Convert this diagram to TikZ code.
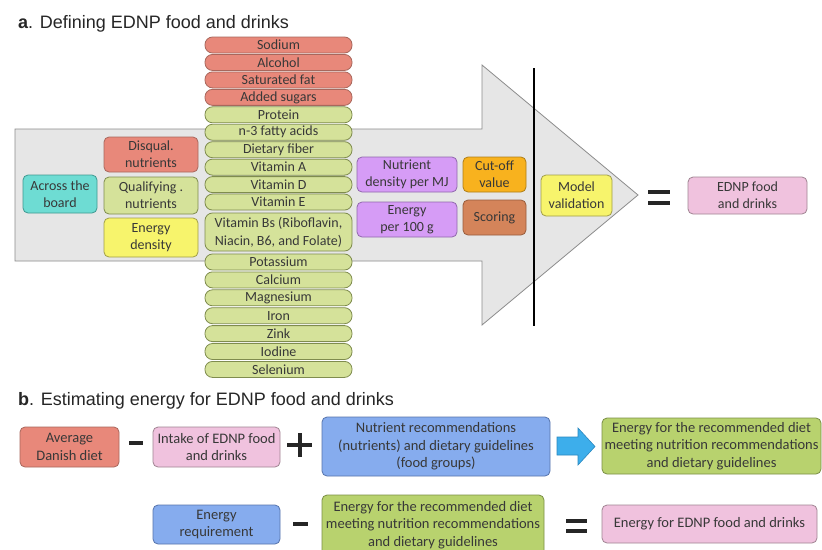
\documentclass[tikz,border=0pt]{standalone}
\usepackage{fontspec}
\setmainfont{Carlito}
\newfontfamily\titlefont{Liberation Sans}
\definecolor{txt}{HTML}{383838}
\definecolor{salmonF}{HTML}{E8887A}\definecolor{salmonD}{HTML}{A8675C}
\definecolor{greenF}{HTML}{D5E29A}\definecolor{greenD}{HTML}{7F8C4E}
\definecolor{cyanF}{HTML}{6EDCD3}\definecolor{cyanD}{HTML}{3E9890}
\definecolor{yellowF}{HTML}{F7F46C}\definecolor{yellowD}{HTML}{A09E48}
\definecolor{purpleF}{HTML}{D69CF6}\definecolor{purpleD}{HTML}{9068AC}
\definecolor{orangeF}{HTML}{F8B21E}\definecolor{orangeD}{HTML}{AE7E18}
\definecolor{scoreF}{HTML}{D4845A}\definecolor{scoreD}{HTML}{985C3C}
\definecolor{pinkF}{HTML}{F0C2DE}\definecolor{pinkD}{HTML}{A08492}
\definecolor{blueF}{HTML}{86ACEE}\definecolor{blueD}{HTML}{5674AC}
\definecolor{greenBF}{HTML}{B8D26E}\definecolor{greenBD}{HTML}{7A8E46}
\definecolor{arrowF}{HTML}{E6E6E6}\definecolor{arrowD}{HTML}{8C8C8C}
\definecolor{arrowBlue}{HTML}{3DAEEB}\definecolor{arrowBlueD}{HTML}{2A88C0}
\tikzset{
  box/.style={draw, rounded corners=5pt, align=center, inner sep=0pt, text=txt,
    font=\fontsize{14}{17}\selectfont, line width=0.8pt},
  boxb/.style={box, font=\fontsize{14.5}{17.5}\selectfont},
  pill/.style={box, rounded corners=7.5pt, minimum width=147pt, minimum height=16pt, fill=greenF, draw=greenD},
  fsalmon/.style={fill=salmonF, draw=salmonD},
  fgreen/.style={fill=greenF, draw=greenD},
  fcyan/.style={fill=cyanF, draw=cyanD},
  fyellow/.style={fill=yellowF, draw=yellowD},
  fpurple/.style={fill=purpleF, draw=purpleD},
  forange/.style={fill=orangeF, draw=orangeD},
  fscore/.style={fill=scoreF, draw=scoreD},
  fpink/.style={fill=pinkF, draw=pinkD},
  fblue/.style={fill=blueF, draw=blueD},
  fgreenb/.style={fill=greenBF, draw=greenBD},
  sign/.style={line width=4pt, draw=black!85},
  title/.style={anchor=base west, inner sep=0pt, font=\titlefont\fontsize{18}{21}\selectfont, text=black!85}
}
\begin{document}
\begin{tikzpicture}[x=1pt,y=-1pt]
\useasboundingbox (0,0) rectangle (822,549);
\fill[white] (0,0) rectangle (822,549);
% ---------- part a ----------
\node[title] (ta) at (18,28) {\textbf{a}. Defining EDNP food and drinks};
\draw[fill=arrowF, draw=arrowD, line width=0.8pt]
  (15,129) -- (482,129) -- (482,65) -- (638,195) -- (482,325) -- (482,261) -- (15,261) -- cycle;
\draw[line width=2.6pt] (534,68) -- (534,326);
% pills
\node[pill, fsalmon] (p1) at (278.5,45) {Sodium};
\node[pill, fsalmon] (p2) at (278.5,62.45) {Alcohol};
\node[pill, fsalmon] (p3) at (278.5,79.9) {Saturated fat};
\node[pill, fsalmon] (p4) at (278.5,97.35) {Added sugars};
\node[pill] (p5) at (278.5,114.8) {Protein};
\node[pill] (p6) at (278.5,132.25) {n-3 fatty acids};
\node[pill] (p7) at (278.5,149.7) {Dietary fiber};
\node[pill] (p8) at (278.5,167.15) {Vitamin A};
\node[pill] (p9) at (278.5,184.6) {Vitamin D};
\node[pill] (p10) at (278.5,202.05) {Vitamin E};
\node[pill, minimum height=38pt, font=\fontsize{14}{18}\selectfont] (p11) at (278.5,232) {Vitamin Bs (Riboflavin,\\Niacin, B6, and Folate)};
\node[pill] (p12) at (278.5,262) {Potassium};
\node[pill] (p13) at (278.5,279.9) {Calcium};
\node[pill] (p14) at (278.5,297.8) {Magnesium};
\node[pill] (p15) at (278.5,315.7) {Iron};
\node[pill] (p16) at (278.5,333.6) {Zink};
\node[pill] (p17) at (278.5,351.5) {Iodine};
\node[pill] (p18) at (278.5,369.4) {Selenium};
% left boxes
\node[box, fcyan, minimum width=74pt, minimum height=38pt] (atb) at (60,194) {Across the\\board};
\node[box, fsalmon, minimum width=94pt, minimum height=35pt] (dis) at (151,154.5) {Disqual.\\nutrients};
\node[box, fgreen, minimum width=94pt, minimum height=37pt] (qual) at (151,195.5) {Qualifying .\\nutrients};
\node[box, fyellow, minimum width=94pt, minimum height=39pt] (ed) at (151,237.5) {Energy\\density};
% middle boxes
\node[box, fpurple, minimum width=100pt, minimum height=35pt] (ndmj) at (407,174.5) {Nutrient\\density per MJ};
\node[box, fpurple, minimum width=100pt, minimum height=35pt] (e100) at (407,219.5) {Energy\\per 100 g};
\node[box, forange, minimum width=63pt, minimum height=35pt] (cut) at (494.5,174.5) {Cut-off\\value};
\node[box, fscore, minimum width=63pt, minimum height=35pt] (sco) at (494.5,217.5) {Scoring};
\node[box, fyellow, minimum width=71pt, minimum height=41pt] (mv) at (576.5,195.5) {Model\\validation};
\node[box, fpink, minimum width=119pt, minimum height=37pt] (ednp) at (747.5,195.5) {EDNP food\\and drinks};
\draw[sign] (648,192) -- (670,192);
\draw[sign] (648,203) -- (670,203);
% ---------- part b ----------
\node[title] (tb) at (18,405) {\textbf{b}. Estimating energy for EDNP food and drinks};
\node[boxb, fsalmon, minimum width=99pt, minimum height=40pt] (avg) at (69.5,447) {Average\\Danish diet};
\node[boxb, fpink, minimum width=127pt, minimum height=40pt] (intake) at (216.5,447) {Intake of EDNP food\\and drinks};
\node[boxb, fblue, minimum width=228pt, minimum height=59pt] (nrec) at (436,446.5) {Nutrient recommendations\\(nutrients) and dietary guidelines\\(food groups)};
\node[boxb, fgreenb, minimum width=219pt, minimum height=56pt] (erd1) at (711.5,446) {Energy for the recommended diet\\meeting nutrition recommendations\\and dietary guidelines};
\node[boxb, fblue, minimum width=127pt, minimum height=39pt] (ereq) at (216.5,524.5) {Energy\\requirement};
\node[boxb, fgreenb, minimum width=222pt, minimum height=60pt] (erd2) at (433,525) {Energy for the recommended diet\\meeting nutrition recommendations\\and dietary guidelines};
\node[boxb, fpink, minimum width=215pt, minimum height=38pt] (eednp) at (709.5,524) {Energy for EDNP food and drinks};
% signs
\draw[sign, line width=3.5pt] (129,443) -- (143,443);
\draw[sign] (287,445) -- (312,445);
\draw[sign] (299.5,433) -- (299.5,457);
\draw[sign, line width=3.5pt] (293,524) -- (308,524);
\draw[sign] (566,521) -- (587,521);
\draw[sign] (566,531) -- (587,531);
% blue arrow
\draw[fill=arrowBlue, draw=arrowBlueD, line width=0.6pt]
  (557,437) -- (578,437) -- (578,428) -- (595,446.5) -- (578,465) -- (578,455) -- (557,455) -- cycle;
\end{tikzpicture}
\end{document}
